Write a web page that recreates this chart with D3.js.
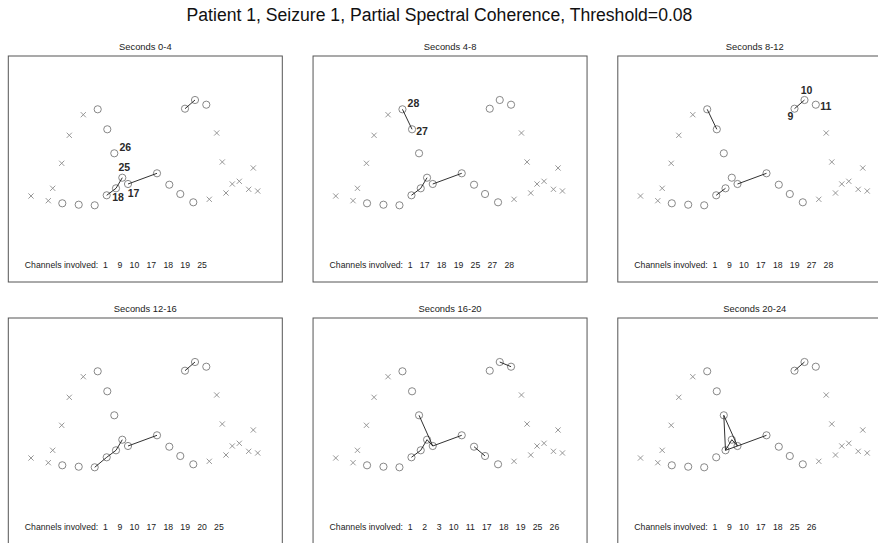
<!DOCTYPE html>
<html>
<head>
<meta charset="utf-8">
<script src="https://cdn.jsdelivr.net/npm/d3@7"></script>
<style>
  html, body { margin: 0; padding: 0; background: #fff; }
  svg text { font-family: "Liberation Sans", Arial, sans-serif; }
</style>
</head>
<body>
<svg id="chart" width="878" height="543"></svg>
<script>
// Scalp electrode layout (cm on a flattened montage)
const channelIds = [1, 2, 3, 4, 9, 10, 11, 17, 18, 19, 20, 21, 22, 25, 26, 27, 28];
const channelX = [14.87, 16.10, 17.20, 18.50, 17.67, 18.67, 19.80, 11.97, 10.77, 9.84, 8.64, 7.04, 5.40, 11.40, 10.60, 9.90, 8.94];
const channelY = [10.87, 9.73, 8.80, 7.97, 17.33, 18.20, 17.73, 9.80, 9.37, 8.67, 7.67, 7.73, 7.87, 10.43, 12.87, 15.27, 17.27];

// Reference / unused contacts, drawn as crosses
const refX = [2.27, 4.00, 4.44, 5.34, 6.10, 7.50, 20.84, 21.40, 20.10, 21.77, 22.40, 23.10, 24.50, 24.04, 24.94];
const refY = [8.60, 8.13, 9.37, 11.87, 14.67, 16.73, 14.90, 12.00, 8.27, 8.90, 9.80, 10.07, 11.40, 9.27, 9.10];

// Time windows
const windows = ["Seconds 0-4", "Seconds 4-8", "Seconds 8-12", "Seconds 12-16", "Seconds 16-20", "Seconds 20-24"];

// Channel pairs whose partial spectral coherence exceeds the threshold
const edges = [
  [[9, 10], [19, 18], [18, 25], [17, 1]],
  [[28, 27], [19, 18], [18, 25], [17, 1]],
  [[28, 27], [9, 10], [19, 18], [17, 1]],
  [[9, 10], [20, 19], [19, 18], [18, 25], [17, 1]],
  [[10, 11], [2, 3], [26, 17], [17, 1], [19, 18], [18, 25], [25, 17]],
  [[9, 10], [26, 18], [26, 17], [18, 17], [25, 18], [25, 17], [17, 1]]
];

const involved = [
  [1, 9, 10, 17, 18, 19, 25],
  [1, 17, 18, 19, 25, 27, 28],
  [1, 9, 10, 17, 18, 19, 27, 28],
  [1, 9, 10, 17, 18, 19, 20, 25],
  [1, 2, 3, 10, 11, 17, 18, 19, 25, 26],
  [1, 9, 10, 17, 18, 25, 26]
];

// Channel number annotations: [channel, side]
const annotations = [
  [[26, "ne"], [25, "n"], [18, "s"], [17, "se"]],
  [[28, "ne"], [27, "e"]],
  [[10, "n"], [9, "sw"], [11, "e"]],
  [],
  [],
  []
];

const title = "Patient 1, Seizure 1, Partial Spectral Coherence, Threshold=0.08";

// ---- drawing ----
const svg = d3.select("#chart");
svg.append("rect").attr("width", 878).attr("height", 543).attr("fill", "#fff");

svg.append("text")
  .attr("x", 439.5).attr("y", 20.5)
  .attr("text-anchor", "middle")
  .attr("font-size", 17.6)
  .attr("fill", "#111")
  .text(title);

const panelW = 274, panelH = 226;
const colLeft = c => 8.3 + c * 304.75;
const rowTop = r => 56 + r * 262;

const x = d3.scaleLinear().domain([0, 27.4]).range([0, panelW]);
const y = d3.scaleLinear().domain([0, 22.6]).range([panelH, 0]);

const chan = new Map(channelIds.map((id, i) => [id, { id, x: channelX[i], y: channelY[i] }]));
const refs = refX.map((v, i) => ({ x: v, y: refY[i] }));

const labelOffset = {
  ne: [11, -6], n: [2, -10], s: [2, 8.5], se: [5.5, 9], e: [10, 1.5], sw: [-4, 7.5]
};

const NBSP = "\u00A0";

windows.forEach((win, k) => {
  const r = Math.floor(k / 3), c = k % 3;
  const g = svg.append("g").attr("transform", `translate(${colLeft(c)},${rowTop(r)})`);

  // window title
  g.append("text")
    .attr("x", panelW / 2).attr("y", -6.5)
    .attr("text-anchor", "middle")
    .attr("font-size", 9.4)
    .attr("fill", "#222")
    .text(win);

  // frame
  g.append("rect")
    .attr("x", 0).attr("y", 0)
    .attr("width", panelW).attr("height", panelH)
    .attr("fill", "none")
    .attr("stroke", "#555")
    .attr("stroke-width", 1);

  // reference crosses
  const s = 2.6;
  g.selectAll("path.ref").data(refs).join("path")
    .attr("class", "ref")
    .attr("d", d => {
      const px = x(d.x), py = y(d.y);
      return `M${px - s},${py - s}L${px + s},${py + s}M${px - s},${py + s}L${px + s},${py - s}`;
    })
    .attr("stroke", "#8c8c8c")
    .attr("stroke-width", 0.9)
    .attr("fill", "none");

  // channel circles
  g.selectAll("circle.ch").data(channelIds.map(id => chan.get(id))).join("circle")
    .attr("class", "ch")
    .attr("cx", d => x(d.x)).attr("cy", d => y(d.y))
    .attr("r", 3.6)
    .attr("fill", "none")
    .attr("stroke", "#7a7a7a")
    .attr("stroke-width", 0.9);

  // coherence links
  g.selectAll("line.edge").data(edges[k]).join("line")
    .attr("class", "edge")
    .attr("x1", d => x(chan.get(d[0]).x)).attr("y1", d => y(chan.get(d[0]).y))
    .attr("x2", d => x(chan.get(d[1]).x)).attr("y2", d => y(chan.get(d[1]).y))
    .attr("stroke", "#1a1a1a")
    .attr("stroke-width", 0.9);

  // channel annotations
  g.selectAll("text.lab").data(annotations[k]).join("text")
    .attr("class", "lab")
    .attr("x", d => x(chan.get(d[0]).x) + labelOffset[d[1]][0])
    .attr("y", d => y(chan.get(d[0]).y) + labelOffset[d[1]][1] + 3.7)
    .attr("text-anchor", "middle")
    .attr("font-size", 10.5)
    .attr("font-weight", "bold")
    .attr("fill", "#2a2a2a")
    .text(d => String(d[0]));

  // list of involved channels (width-2 numbers, three-space separator)
  const list = involved[k]
    .map(v => String(v).padStart(2, NBSP))
    .join(NBSP.repeat(3));
  g.append("text")
    .attr("x", 16.5).attr("y", 211.5)
    .attr("font-size", 8.7)
    .attr("fill", "#222")
    .text("Channels involved:" + NBSP + list);
});
</script>
</body>
</html>
